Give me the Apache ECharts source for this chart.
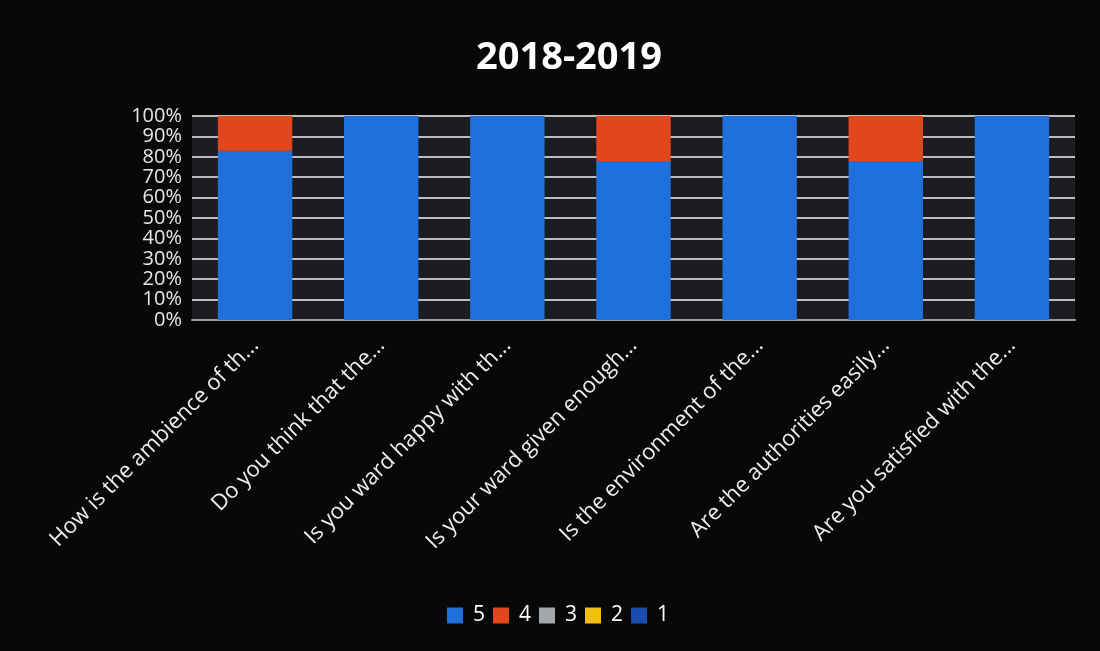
<!DOCTYPE html>
<html>
<head>
<meta charset="utf-8">
<script src="https://cdn.jsdelivr.net/npm/echarts@6/dist/echarts.min.js"></script>
<style>
    html, body { margin: 0; padding: 0; background: #080808; }
    #chart { width: 1100px; height: 651px; }
</style>
</head>
<body>
<div id="chart"></div>
<script>
// questions (truncated as shown on the chart)
const questions = [
    'How is the ambience of th...',
    'Do you think that the...',
    'Is you ward happy with th...',
    'Is your ward given enough...',
    'Is the environment of the...',
    'Are the authorities easily...',
    'Are you satisfied with the...'
];

// share of answers per rating, in %
const rating5 = [83, 100, 100, 78, 100, 78, 100];
const rating4 = [17, 0, 0, 22, 0, 22, 0];
const rating3 = [0, 0, 0, 0, 0, 0, 0];
const rating2 = [0, 0, 0, 0, 0, 0, 0];
const rating1 = [0, 0, 0, 0, 0, 0, 0];

const seriesNames = ['5', '4', '3', '2', '1'];
const seriesData = [rating5, rating4, rating3, rating2, rating1];
const colors = ['#1f70da', '#e2461c', '#a3a8ad', '#f3c010', '#1a4cae'];

const myChart = echarts.init(document.getElementById('chart'));

const option = {
    backgroundColor: '#080808',
    textStyle: { fontFamily: '"Open Sans", sans-serif' },
    title: {
        text: '2018-2019',
        top: 34,
        left: 564,
        textAlign: 'center',
        textStyle: {
            color: '#ffffff',
            fontSize: 38,
            fontWeight: 'bold',
            fontFamily: '"Open Sans", sans-serif'
        }
    },
    legend: {
        data: seriesNames,
        top: 600,
        left: 442,
        itemWidth: 16,
        itemHeight: 16,
        itemGap: 8,
        icon: 'rect',
        textStyle: { color: '#ffffff', fontSize: 21, padding: [0, 0, 0, 5] }
    },
    grid: {
        left: 192,
        right: 25,
        top: 116,
        bottom: 331,
        show: true,
        backgroundColor: '#1b1d22',
        borderWidth: 0
    },
    xAxis: {
        type: 'category',
        data: questions,
        axisTick: { show: false },
        axisLine: { lineStyle: { color: '#9a9a9a', width: 2 } },
        axisLabel: {
            color: '#ececec',
            fontSize: 22,
            rotate: 45,
            margin: 22
        }
    },
    yAxis: {
        type: 'value',
        min: 0,
        max: 100,
        interval: 10,
        axisLine: { show: false },
        axisTick: { show: false },
        axisLabel: {
            color: '#e6e6e6',
            fontSize: 20,
            lineHeight: 16,
            margin: 10,
            showMinLabel: true,
            showMaxLabel: true,
            hideOverlap: false,
            formatter: '{value}%'
        },
        splitLine: { lineStyle: { color: '#bdbdbd', width: 2 } }
    },
    series: seriesNames.map((name, i) => ({
        name: name,
        type: 'bar',
        stack: 'total',
        barWidth: '59%',
        itemStyle: { color: colors[i] },
        data: seriesData[i]
    }))
};

myChart.setOption(option);
window.addEventListener('resize', () => myChart.resize());
</script>
</body>
</html>
